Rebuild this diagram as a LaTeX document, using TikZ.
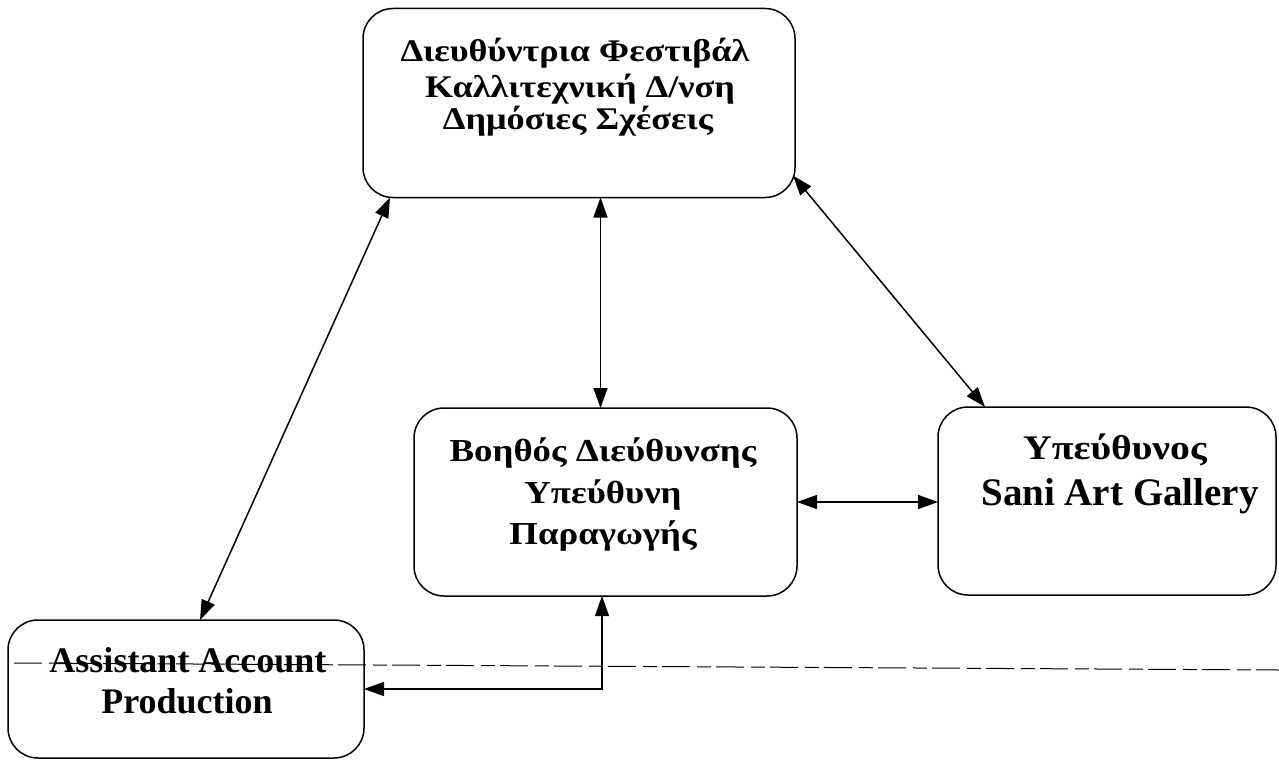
\documentclass[tikz,border=0pt]{standalone}
\usepackage{fontspec}
\setmainfont{Liberation Serif}
\newfontfamily\grkfont[FakeStretch=1.15]{Liberation Serif}
\usetikzlibrary{arrows.meta}
\begin{document}
\begin{tikzpicture}[x=1pt,y=-1pt,
  box/.style={draw, line width=1.5pt, rounded corners=30pt, outer sep=0pt, inner sep=0pt},
  grk/.style={font=\grkfont\bfseries\fontsize{#1}{#1}\selectfont, anchor=base, inner sep=0pt},
  lat/.style={font=\bfseries\fontsize{#1}{#1}\selectfont, anchor=base, inner sep=0pt},
  conn/.style={{Triangle[length=20pt,width=14pt]}-{Triangle[length=20pt,width=14pt]}, line width=1.5pt},
  scanline/.style={line width=1pt, dash pattern=on 28pt off 7pt on 14pt off 5pt}
]
\useasboundingbox (0,0) rectangle (1279,760);
\fill[white] (0,0) rectangle (1279,760);

% boxes
\node[box, minimum width=432pt, minimum height=189pt] (top) at (579,103) {};
\node[box, minimum width=383pt, minimum height=188pt] (mid) at (605.5,502) {};
\node[box, minimum width=338pt, minimum height=188pt] (right) at (1107,501) {};
\node[box, minimum width=356pt, minimum height=138pt] (asst) at (186,689) {};

% scan line
\coordinate (d1) at (14,663);
\coordinate (d2) at (1279,670);
\draw[scanline] (d1) -- (d2);

% texts
\node[grk=31.5] (t1) at (575,62) {Διευθύντρια Φεστιβάλ};
\node[grk=31.5] (t2) at (580,97) {Καλλιτεχνική Δ/νση};
\node[grk=31.5] (t3) at (578,129) {Δημόσιες Σχέσεις};
\node[grk=32] (m1) at (603,461) {Βοηθός Διεύθυνσης};
\node[grk=32] (m2) at (603,503) {Υπεύθυνη};
\node[grk=32] (m3) at (603,544) {Παραγωγής};
\node[grk=34.5] (r1) at (1115,459) {Υπεύθυνος};
\node[lat=39] (r2) at (1120,505) {Sani Art Gallery};
\node[lat=36] (a1) at (188,672) {Assistant Account};
\node[lat=36] (a2) at (187,713) {Production};

% connectors
\draw[conn] ([xshift=27pt]top.south west) -- ([xshift=14pt]asst.north);
\draw[conn] ([xshift=-5pt]mid.north |- top.south) -- ([xshift=-5pt]mid.north);
\draw[conn] ([xshift=-2pt,yshift=22pt]top.south east) -- ([xshift=47pt]right.north west);
\draw[conn] (mid.east) -- (mid.east -| right.west);
\draw[conn] ([xshift=-3.5pt]mid.south) |- (asst.east);
\end{tikzpicture}
\end{document}
